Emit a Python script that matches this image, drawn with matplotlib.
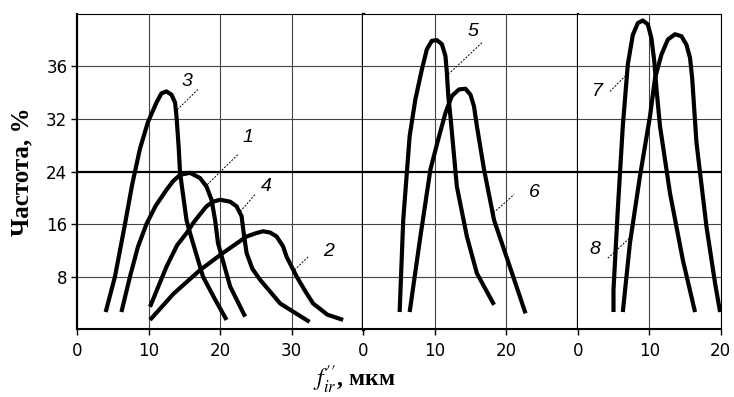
import matplotlib
matplotlib.use("Agg")
import matplotlib.pyplot as plt

# ---------------- data ----------------
# Panel 1: curves 1-4
c3_x = [4.0, 5.3, 6.7, 7.7, 8.8, 9.9, 11.1, 11.8, 12.5, 13.2, 13.7, 13.9, 14.2, 14.4, 15.3, 15.8, 17.6, 19.3, 20.9]
c3_y = [2.6, 8.0, 16.0, 22.0, 27.5, 31.5, 34.5, 35.9, 36.2, 35.7, 34.5, 32.4, 27.8, 23.8, 16.6, 14.6, 8.0, 4.5, 1.4]
c1_x = [6.2, 7.4, 8.5, 9.7, 11.0, 12.5, 13.4, 14.4, 15.8, 17.2, 18.1, 18.8, 19.3, 19.7, 21.4, 23.5]
c1_y = [2.6, 8.0, 12.5, 16.0, 18.8, 21.2, 22.5, 23.5, 23.8, 23.0, 21.7, 19.7, 16.6, 13.1, 6.5, 1.9]
c4_x = [10.2, 12.5, 14.0, 15.3, 16.2, 17.2, 18.1, 19.0, 20.0, 21.4, 22.3, 23.0, 23.3, 23.7, 24.5, 25.6, 28.4, 32.5]
c4_y = [3.4, 9.5, 12.8, 14.6, 16.1, 17.5, 18.7, 19.4, 19.7, 19.4, 18.7, 17.2, 14.6, 11.6, 9.2, 7.5, 3.9, 1.1]
c2_x = [10.2, 13.5, 17.2, 20.4, 23.7, 25.0, 26.0, 27.0, 27.9, 28.8, 29.3, 30.7, 32.0, 33.0, 35.0, 37.2]
c2_y = [1.4, 5.4, 9.0, 11.6, 14.1, 14.6, 14.9, 14.7, 14.1, 12.6, 11.0, 8.0, 5.6, 3.9, 2.2, 1.4]
# Panel 2: curves 5, 6
c5_x = [5.1, 5.6, 6.5, 7.3, 8.2, 8.9, 9.6, 10.3, 11.0, 11.5, 11.7, 11.9, 12.2, 13.1, 14.5, 15.9, 18.3]
c5_y = [2.6, 16.6, 29.4, 35.0, 39.5, 42.6, 43.9, 44.0, 43.4, 41.6, 39.1, 35.5, 32.4, 21.7, 14.1, 8.5, 3.7]
c6_x = [6.5, 8.0, 9.4, 10.4, 11.5, 12.4, 13.4, 14.3, 15.0, 15.5, 15.9, 16.9, 18.3, 20.2, 22.7]
c6_y = [2.6, 14.1, 24.3, 28.5, 32.9, 35.5, 36.5, 36.6, 35.7, 33.9, 30.9, 24.3, 16.6, 10.5, 2.4]
# Panel 3: curves 7, 8
c7_x = [5.0, 5.0, 5.6, 6.3, 7.0, 7.7, 8.4, 9.1, 9.8, 10.3, 10.7, 11.0, 11.5, 12.9, 14.7, 16.4]
c7_y = [2.6, 6.0, 18.2, 30.9, 40.3, 44.8, 46.6, 47.0, 46.4, 44.3, 40.8, 36.7, 30.9, 20.7, 10.5, 2.6]
c8_x = [6.3, 7.3, 8.7, 10.1, 10.8, 11.7, 12.6, 13.6, 14.5, 15.2, 15.7, 16.0, 16.6, 18.0, 19.2, 19.9]
c8_y = [2.6, 13.1, 23.3, 32.4, 38.2, 41.8, 44.1, 44.9, 44.6, 43.3, 41.3, 38.2, 28.4, 15.6, 7.0, 2.6]

y_ticks = [8, 16, 24, 32, 40]
y_tick_labels = ["8", "16", "24", "32", "36"]
panel_xmax = [40, 30, 20]
panel_xticks = [[0, 10, 20, 30], [0, 10, 20], [0, 10, 20]]

# curve labels: (panel, text, text_x, text_y, leader x0, y0, x1, y1)
labels = [
    (0, "3", 15.4, 37.7, 14.0, 33.4, 16.9, 36.5),
    (0, "1", 23.9, 29.2, 18.2, 22.0, 22.5, 26.6),
    (0, "4", 26.5, 21.7, 22.8, 17.9, 24.9, 20.5),
    (0, "2", 35.1, 11.8, 30.4, 9.0, 32.3, 11.0),
    (1, "5", 15.3, 45.3, 11.9, 38.8, 16.7, 43.7),
    (1, "6", 23.9, 20.8, 18.2, 17.7, 21.1, 20.5),
    (2, "7", 2.7, 36.2, 4.5, 36.2, 6.6, 38.5),
    (2, "8", 2.4, 12.1, 4.2, 10.8, 7.3, 13.9),
]

# ---------------- figure ----------------
plt.rcParams["mathtext.fontset"] = "stix"
fig = plt.figure(figsize=(7.34, 3.97), dpi=100)
gs = fig.add_gridspec(1, 3, width_ratios=panel_xmax, left=0.105, right=0.982,
                      bottom=0.171, top=0.965, wspace=0)
axes = [fig.add_subplot(gs[0, i]) for i in range(3)]

curves = [
    [(c3_x, c3_y), (c1_x, c1_y), (c4_x, c4_y), (c2_x, c2_y)],
    [(c5_x, c5_y), (c6_x, c6_y)],
    [(c7_x, c7_y), (c8_x, c8_y)],
]

for i, ax in enumerate(axes):
    ax.set_xlim(0, panel_xmax[i])
    ax.set_ylim(0, 48)
    # grid
    for gx in panel_xticks[i][1:]:
        ax.axvline(gx, color="#444444", lw=0.8, zorder=1)
    for gy in y_ticks:
        if gy == 24:
            ax.axhline(gy, color="black", lw=1.6, zorder=1)
        else:
            ax.axhline(gy, color="#444444", lw=0.8, zorder=1)
    for (xs, ys) in curves[i]:
        ax.plot(xs, ys, color="black", lw=3.0, solid_joinstyle="round",
                solid_capstyle="butt", zorder=3)
    ax.set_xticks(panel_xticks[i])
    ax.set_xticklabels([str(t) for t in panel_xticks[i]], fontsize=12,
                       family="DejaVu Sans")
    ax.tick_params(axis="x", direction="out", length=4, width=1, pad=5)
    ax.set_yticks(y_ticks)
    if i == 0:
        ax.set_yticklabels(y_tick_labels, fontsize=12, family="DejaVu Sans")
        ax.tick_params(axis="y", direction="out", length=4, width=1, pad=3)
    else:
        ax.tick_params(axis="y", left=False, labelleft=False)
    for s in ax.spines.values():
        s.set_color("black")
    ax.spines["top"].set_linewidth(0.8)
    ax.spines["bottom"].set_linewidth(1.5)
    if i == 0:
        ax.spines["left"].set_linewidth(1.6)
        ax.spines["right"].set_linewidth(2.4)
    elif i == 1:
        ax.spines["left"].set_visible(False)
        ax.spines["right"].set_linewidth(1.6)
    else:
        ax.spines["left"].set_visible(False)
        ax.spines["right"].set_linewidth(0.8)

for (p, t, tx, ty, x0, y0, x1, y1) in labels:
    ax = axes[p]
    ax.plot([x0, x1], [y0, y1], color="black", lw=0.7, ls=(0, (2, 1.5)), zorder=4)
    ax.text(tx, ty, t, fontsize=14, style="italic", family="Liberation Sans",
            ha="center", va="center", zorder=5)

fig.text(0.030, 0.567, "Частота, %", rotation=90, ha="center", va="center",
         fontsize=18, fontweight="bold", family="Liberation Serif")
fig.text(0.482, 0.043, r"$f_{ir}^{\prime\prime}$, мкм", ha="center", va="center",
         fontsize=17, fontweight="bold", family="Liberation Serif")

fig.savefig("out.png", dpi=100)
